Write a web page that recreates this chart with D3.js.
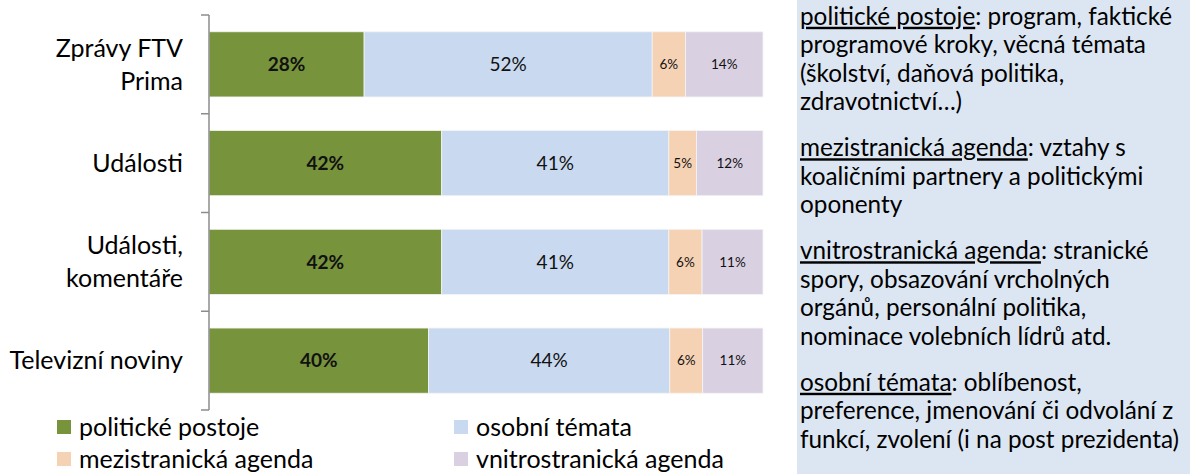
<!DOCTYPE html>
<html>
<head>
<meta charset="utf-8">
<script src="https://cdn.jsdelivr.net/npm/d3@7"></script>
<style>
    body { margin: 0; background: #fff; }
    svg { display: block; font-family: Lato, "Open Sans", sans-serif; }
</style>
</head>
<body>
<div id="viewport"></div>
<script>

// categories (label lines) and series values, in %
var categories = ["Zprávy FTV Prima", "Události", "Události, komentáře", "Televizní noviny"];
var categoryLines = [["Zprávy FTV", "Prima"], ["Události"], ["Události,", "komentáře"], ["Televizní noviny"]];

var seriesNames = ["politické postoje", "osobní témata", "mezistranická agenda", "vnitrostranická agenda"];
var politicke = [28, 42, 42, 40];
var osobni = [52, 41, 41, 44];
var mezistranicka = [6, 5, 6, 6];
var vnitrostranicka = [14, 12, 11, 11];

var colors = ["#77933c", "#c9daf0", "#f6d2b4", "#d9d0e2"];

// right hand notes: term + rest of the paragraph, already wrapped
var notes = [
    {term: "politické postoje", lines: [": program, faktické", "programové kroky, věcná témata", "(školství, daňová politika,", "zdravotnictví…)"]},
    {term: "mezistranická agenda", lines: [": vztahy s", "koaličními partnery a politickými", "oponenty"]},
    {term: "vnitrostranická agenda", lines: [": stranické", "spory, obsazování vrcholných", "orgánů, personální politika,", "nominace volebních lídrů atd."]},
    {term: "osobní témata", lines: [": oblíbenost,", "preference, jmenování či odvolání z", "funkcí, zvolení (i na post prezidenta)"]}
];

var width = 1190, height = 474;

var svg = d3.select("#viewport").append("svg")
    .attr("width", width)
    .attr("height", height);

// table for the stack
var rows = categories.map(function(c, i) {
    var r = {category: c};
    r[seriesNames[0]] = politicke[i];
    r[seriesNames[1]] = osobni[i];
    r[seriesNames[2]] = mezistranicka[i];
    r[seriesNames[3]] = vnitrostranicka[i];
    return r;
});

var stack = d3.stack().keys(seriesNames).offset(d3.stackOffsetExpand);
var layers = stack(rows);

var x = d3.scaleLinear().domain([0, 1]).range([209, 763]);
var y = d3.scaleBand().domain(categories).range([15, 410])
    .paddingInner(0.34).paddingOuter(0.17);

// bars
var layer = svg.selectAll("g.layer")
    .data(layers)
    .enter().append("g")
    .attr("class", "layer")
    .attr("fill", function(d, i) { return colors[i]; });

layer.selectAll("rect")
    .data(function(d) { return d; })
    .enter().append("rect")
    .attr("x", function(d) { return x(d[0]); })
    .attr("y", function(d) { return y(d.data.category); })
    .attr("width", function(d) { return x(d[1]) - x(d[0]); })
    .attr("height", y.bandwidth())
    .attr("stroke", "#f4f4f4")
    .attr("stroke-width", 0.8);

// value labels
layer.selectAll("text")
    .data(function(d, i) { return d.map(function(p) { p.series = i; p.value = p.data[d.key]; return p; }); })
    .enter().append("text")
    .attr("x", function(d) { return (x(d[0]) + x(d[1])) / 2; })
    .attr("y", function(d) { return y(d.data.category) + y.bandwidth() / 2; })
    .attr("dy", "0.35em")
    .attr("text-anchor", "middle")
    .attr("fill", "#111")
    .attr("font-weight", function(d) { return d.series === 0 ? "bold" : "normal"; })
    .attr("font-size", function(d) { return d.series < 2 ? 19 : 13.5; })
    .text(function(d) { return d.value + "%"; });

// category axis, ticks between the categories
var axis = svg.append("g").attr("class", "axis");
axis.append("line")
    .attr("x1", 209).attr("x2", 209)
    .attr("y1", y.range()[0]).attr("y2", y.range()[1])
    .attr("stroke", "#8c8c8c").attr("stroke-width", 1.5);

var tickPos = categories.map(function(c) { return y(c) - y.step() * y.paddingInner() / 2; });
tickPos[0] = y.range()[0];
tickPos.push(y.range()[1]);
axis.selectAll("line.tick")
    .data(tickPos)
    .enter().append("line")
    .attr("class", "tick")
    .attr("x1", 201).attr("x2", 209)
    .attr("y1", function(d) { return d; }).attr("y2", function(d) { return d; })
    .attr("stroke", "#8c8c8c").attr("stroke-width", 1.5);

var catLabel = axis.selectAll("text.cat")
    .data(categories)
    .enter().append("text")
    .attr("class", "cat")
    .attr("text-anchor", "end")
    .attr("font-size", 25)
    .attr("fill", "#000");

catLabel.each(function(c, i) {
    var lines = categoryLines[i];
    var cy = y(c) + y.bandwidth() / 2;
    var lh = 33;
    var sel = d3.select(this);
    lines.forEach(function(l, j) {
        sel.append("tspan")
            .attr("x", 183)
            .attr("y", cy + (j - (lines.length - 1) / 2) * lh)
            .attr("dy", "0.35em")
            .text(l);
    });
});

// legend (second row kept just inside the bottom edge)
var legend = svg.append("g").attr("class", "legend");
var legendX = [57, 454], legendY = [427, 459];

var item = legend.selectAll("g")
    .data(seriesNames)
    .enter().append("g")
    .attr("transform", function(d, i) { return "translate(" + legendX[i % 2] + "," + legendY[Math.floor(i / 2)] + ")"; });

item.append("rect")
    .attr("x", 0).attr("y", -7)
    .attr("width", 14).attr("height", 14)
    .attr("fill", function(d, i) { return colors[i]; });

item.append("text")
    .attr("x", 22)
    .attr("dy", "0.35em")
    .attr("font-size", 25)
    .attr("fill", "#000")
    .text(function(d) { return d; });

// notes panel on the right
svg.append("rect")
    .attr("x", 797).attr("y", 0)
    .attr("width", width - 797).attr("height", height)
    .attr("fill", "#dce6f2");

var lineH = 28.5, paraGap = 17.5, firstY = 17;
var lineNo = 0;
var notesG = svg.append("g").attr("font-size", 24.3).attr("fill", "#000");

notes.forEach(function(n, p) {
    n.lines.forEach(function(l, j) {
        var t = notesG.append("text")
            .attr("x", 800)
            .attr("y", firstY + lineNo * lineH + p * paraGap)
            .attr("dy", "0.32em");
        if (j === 0) {
            t.append("tspan")
                .style("text-decoration", "underline")
                .text(n.term);
        }
        t.append("tspan").text(l);
        lineNo++;
    });
});

</script>
</body>
</html>
